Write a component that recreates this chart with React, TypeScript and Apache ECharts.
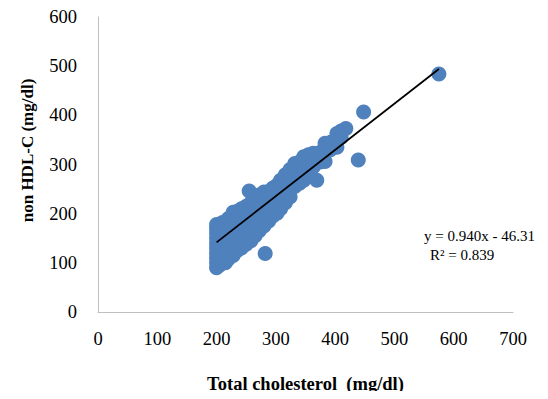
import React, { useEffect, useRef } from "react";
import * as echarts from "echarts";

// Scatter points: Total cholesterol (x) and non HDL-C (y)
const tcValues: number[] = [
  200, 200, 200, 200, 200, 200, 200, 200, 200, 200,
  205, 205, 205, 205, 205,
  210, 210, 210, 210, 210, 210,
  215, 215, 215, 215,
  220, 220, 220, 220, 220, 220,
  228, 228, 228, 228, 228, 228,
  235, 235, 235, 235, 235,
  242, 242, 242, 242, 242,
  250, 250, 250, 250, 250,
  255,
  258, 258, 258, 258, 258,
  265, 265, 265, 265, 265,
  272, 272, 272, 272, 272,
  282,
  280, 280, 280, 280, 280,
  288, 288, 288, 288,
  295, 295, 295, 295,
  302, 302, 302, 302,
  308, 308, 308, 308,
  316, 316, 316, 316,
  324, 324, 324, 324,
  332, 332, 332,
  340, 340, 340,
  347, 347, 347,
  355, 355, 355,
  363, 363,
  369,
  375, 375,
  383, 383, 383,
  392, 392,
  403, 403, 403,
  410, 410,
  418,
  439, 448, 575,
];
const nonHdlValues: number[] = [
  90, 100, 110, 120, 130, 140, 150, 160, 170, 178,
  95, 115, 135, 155, 175,
  100, 118, 136, 154, 172, 182,
  100, 125, 150, 175,
  108, 125, 145, 165, 185, 190,
  115, 135, 155, 175, 195, 203,
  125, 145, 165, 185, 205,
  130, 150, 170, 190, 210,
  138, 158, 178, 198, 215,
  246,
  145, 165, 185, 205, 222,
  155, 175, 195, 215, 230,
  165, 185, 205, 225, 238,
  119,
  175, 195, 215, 235, 244,
  185, 205, 225, 245,
  195, 215, 235, 252,
  201, 220, 240, 258,
  210, 232, 255, 268,
  222, 245, 265, 279,
  234, 255, 278, 290,
  255, 280, 302,
  262, 285, 305,
  268, 292, 316,
  285, 305, 320,
  295, 323,
  268,
  305, 325,
  306, 325, 343,
  330, 345,
  335, 350, 363,
  355, 368,
  373,
  309, 407, 484,
];

// Linear trendline
const slope = 0.94;
const intercept = -46.31;
const trendRange: number[] = [200, 575];
const equationText = "y = 0.940x - 46.31";
const rSquaredText = "R² = 0.839";

const xTicks = { min: 0, max: 700, interval: 100 };
const yTicks = { min: 0, max: 600, interval: 100 };

const FONT = "Liberation Serif";

export default function App() {
  const ref = useRef<HTMLDivElement>(null);
  useEffect(() => {
    if (!ref.current) return;
    const chart = echarts.init(ref.current, undefined, { renderer: "svg" });
    const points = tcValues.map((x, i) => [x, nonHdlValues[i]]);
    const trend = trendRange.map((x) => [x, slope * x + intercept]);
    chart.setOption({
      animation: false,
      backgroundColor: "#ffffff",
      textStyle: { fontFamily: FONT },
      grid: { left: 98, right: 35, top: 17, bottom: 87 },
      xAxis: {
        type: "value",
        min: xTicks.min,
        max: xTicks.max,
        interval: xTicks.interval,
        name: "Total cholesterol  (mg/dl)",
        nameLocation: "middle",
        nameGap: 62,
        nameTextStyle: {
          fontFamily: FONT,
          fontWeight: "bold",
          fontSize: 18.5,
          color: "#000",
        },
        axisLine: { show: true, lineStyle: { color: "#BFBFBF", width: 1 } },
        axisTick: { show: false },
        splitLine: { show: false },
        axisLabel: { fontFamily: FONT, fontSize: 18.5, color: "#000", margin: 17 },
      },
      yAxis: {
        type: "value",
        min: yTicks.min,
        max: yTicks.max,
        interval: yTicks.interval,
        name: "non HDL-C (mg/dl)",
        nameLocation: "middle",
        nameGap: 62,
        nameTextStyle: {
          fontFamily: FONT,
          fontWeight: "bold",
          fontSize: 17,
          color: "#000",
          padding: [0, 0, 0, 28],
        },
        axisLine: { show: true, lineStyle: { color: "#BFBFBF", width: 1 } },
        axisTick: { show: false },
        splitLine: { show: false },
        axisLabel: { fontFamily: FONT, fontSize: 18.5, color: "#000", margin: 21 },
      },
      series: [
        {
          type: "scatter",
          data: points,
          symbolSize: 15,
          itemStyle: { color: "#4F81BD", opacity: 1 },
          z: 2,
        },
        {
          type: "line",
          data: trend,
          symbol: "none",
          lineStyle: { color: "#000000", width: 1.8 },
          z: 3,
        },
      ],
      graphic: [
        {
          type: "text",
          left: 424,
          top: 228,
          style: { text: equationText, fontFamily: FONT, fontSize: 15, fill: "#000" },
        },
        {
          type: "text",
          left: 430,
          top: 247,
          style: { text: rSquaredText, fontFamily: FONT, fontSize: 15, fill: "#000" },
        },
      ],
    });
    return () => chart.dispose();
  }, []);
  return <div ref={ref} style={{ width: 548, height: 399, margin: -8 }} />;
}
